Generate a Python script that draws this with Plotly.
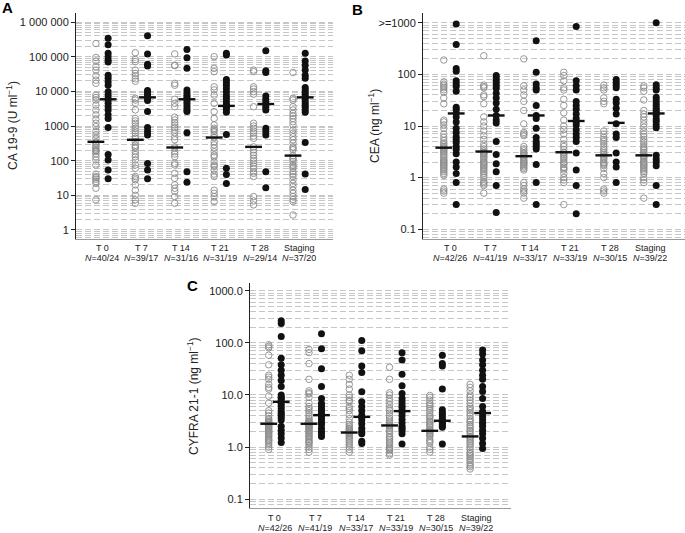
import plotly.graph_objects as go

CATS = ["T 0", "T 7", "T 14", "T 21", "T 28", "Staging"]
N_A = ["40/24", "39/17", "31/16", "31/19", "29/14", "37/20"]
N_B = ["42/26", "41/19", "33/17", "33/19", "30/15", "39/22"]
N_C = ["42/26", "41/19", "33/17", "33/19", "30/15", "39/22"]

# ---- Panel A: CA 19-9 (U/ml) ----
CA_OPEN = [
    [240000, 95000, 75000, 51000, 41000, 28000, 21000, 17000, 7800, 6600, 5600, 4000, 2900, 2100,
     1550, 1200, 960, 690, 550, 440, 350, 320, 280, 250, 215, 200, 183, 156, 130, 105, 75, 41, 35,
     32, 29, 25, 22, 16, 7.4, 190],
    [130000, 83000, 72000, 41000, 33000, 28000, 23000, 19500, 6300, 5600, 4500, 2900, 1650, 1400,
     1200, 1000, 850, 720, 620, 510, 440, 350, 280, 230, 180, 150, 130, 105, 75, 60, 35, 31, 28,
     20, 14, 10, 7.4, 5.9, 250],
    [120000, 57000, 55000, 17000, 15000, 5900, 4500, 3600, 1800, 1500, 1250, 1070, 900, 760, 640,
     490, 400, 250, 230, 180, 155, 130, 84, 75, 43, 31, 20, 16, 13, 9.2, 5.9],
    [100000, 46000, 37000, 13500, 11000, 7800, 4500, 2600, 1650, 1070, 860, 770, 690, 550, 460,
     350, 285, 230, 180, 145, 130, 94, 75, 68, 54, 41, 35, 14, 11.4, 9.2, 6.6],
    [41000, 37000, 13500, 11700, 9800, 8300, 3600, 1200, 1000, 860, 720, 620, 510, 440, 250, 205,
     170, 142, 117, 100, 84, 70, 59, 48, 43, 35, 9.2, 6.9, 5.3],
    [35000, 6300, 5600, 3600, 2900, 2300, 1950, 1650, 1330, 1070, 770, 620, 490, 400, 320, 250,
     230, 205, 138, 117, 110, 94, 75, 68, 60, 48, 41, 35, 28, 22, 18, 14, 11.4, 9.2, 7.6, 6.6, 2.7],
]
CA_FILLED = [
    [340000, 220000, 125000, 100000, 80000, 70000, 29000, 24000, 19000, 15000, 9700, 7800, 6300,
     5600, 4500, 3600, 2900, 2100, 1650, 900, 150, 105, 54, 30],
    [400000, 120000, 60000, 54000, 10500, 9100, 8000, 7000, 6100, 5400, 2600, 900, 690, 550, 83,
     54, 30],
    [160000, 93000, 46000, 11000, 9100, 7700, 6700, 5900, 5000, 4300, 3600, 3000, 2600, 640, 48, 24],
    [125000, 112000, 22000, 18000, 15000, 12000, 9500, 7500, 6300, 5000, 4200, 3800, 3500, 3000,
     2500, 570, 60, 40, 22],
    [148000, 39000, 35000, 7300, 5900, 4900, 4100, 3500, 2900, 860, 690, 550, 48, 16.6],
    [125000, 75000, 57000, 41000, 29000, 24000, 13000, 11000, 9200, 7800, 6700, 5600, 4700, 4000,
     3500, 2900, 2500, 335, 41, 14.8],
]
CA_MED_OPEN = [350, 400, 240, 465, 250, 140]
CA_MED_FILLED = [5900, 6700, 5900, 3800, 4300, 6700]

# ---- Panel B: CEA (ng/ml) ----
CEA_OPEN = [
    [190, 72, 65, 60, 55, 50, 45, 35, 27, 13, 12, 10.5, 9, 7, 6, 5.2, 4.7, 4.3, 4.0, 3.8, 3.6, 3.4,
     3.2, 3.0, 2.8, 2.6, 2.4, 2.2, 2.1, 2.0, 1.9, 1.8, 1.7, 1.6, 1.5, 1.4, 1.3, 1.2, 1.1, 0.6, 0.55, 0.5],
    [230, 62, 58, 55, 40, 37, 27, 15, 12, 10, 8, 6.5, 5.5, 4.5, 4.0, 3.6, 3.3, 3.1, 3.0, 2.9, 2.8,
     2.6, 2.5, 2.3, 2.1, 2.0, 1.9, 1.8, 1.7, 1.6, 1.5, 1.4, 1.3, 1.2, 1.1, 1.0, 0.85, 0.8, 0.75, 0.7, 0.5],
    [200, 60, 50, 40, 30, 20, 11, 7.5, 7, 6.5, 4, 3.6, 3.3, 3.0, 2.9, 2.7, 2.5, 2.4, 2.2, 2.1, 2.0,
     1.9, 1.8, 1.7, 1.6, 1.5, 1.4, 0.8, 0.7, 0.6, 0.55, 0.5, 0.4],
    [110, 95, 75, 55, 50, 33, 25, 18, 13, 10, 8.5, 7, 5.5, 4.5, 4.0, 3.5, 3.1, 3.0, 2.8, 2.6, 2.4,
     2.2, 2.0, 1.9, 1.8, 1.6, 1.5, 1.4, 1.2, 1.0, 0.9, 0.8, 0.3],
    [62, 55, 50, 35, 30, 27, 8, 7, 6, 5.5, 5, 4.5, 4, 3.6, 3.3, 3.0, 2.8, 2.6, 2.4, 2.2, 2.0, 1.9,
     1.8, 1.7, 1.5, 1.2, 1.0, 0.6, 0.55, 0.5],
    [60, 55, 47, 32, 20, 17, 15, 13, 11, 9.5, 8, 7, 6.2, 5.5, 5, 4.5, 4, 3.7, 3.4, 3.1, 2.9, 2.7,
     2.6, 2.5, 2.3, 2.1, 2.0, 1.9, 1.8, 1.7, 1.6, 1.5, 1.4, 1.3, 1.2, 1.0, 0.9, 0.8, 0.4],
]
CEA_FILLED = [
    [950, 380, 130, 115, 75, 65, 58, 47, 23, 21, 18, 15, 12, 9, 7.5, 6.2, 5.5, 4.8, 4.0, 3.5, 2.9,
     2.0, 1.6, 1.2, 0.8, 0.3],
    [95, 85, 76, 68, 60, 54, 43, 35, 28, 21, 16, 13, 11.4, 5.0, 2.8, 1.86, 1.3, 0.7, 0.21],
    [450, 110, 65, 55, 50, 25, 16, 14, 9, 6, 5, 4.5, 4, 3.6, 1.8, 0.8, 0.3],
    [850, 75, 60, 50, 30, 25, 21, 17, 14, 12, 10.5, 8.5, 7, 6, 5, 3, 1.4, 0.7, 0.2],
    [80, 70, 62, 55, 33, 28, 22, 17, 11, 7, 6, 3, 2, 1.6, 0.8],
    [1000, 63, 55, 50, 36, 32, 28, 25, 22, 20, 18, 16, 13.7, 12.3, 10.6, 9.2, 2.7, 2.3, 2.0, 1.7,
     0.7, 0.3],
]
CEA_MED_OPEN = [3.8, 3.2, 2.6, 3.1, 2.7, 2.7]
CEA_MED_FILLED = [17.5, 16, 16, 12.5, 11.5, 17.5]

# ---- Panel C: CYFRA 21-1 (ng/ml) ----
CYF_OPEN = [
    [92, 85, 80, 58, 38, 24, 22, 20, 16, 14, 13, 9.5, 7, 5, 4.5, 4, 3.5, 3.3, 3.1, 3.0, 2.9, 2.8,
     2.7, 2.6, 2.5, 2.4, 2.3, 2.2, 2.1, 2.0, 1.9, 1.8, 1.7, 1.6, 1.5, 1.4, 1.35, 1.3, 1.2, 1.1, 1.0, 0.9],
    [75, 65, 40, 20, 12, 11, 10.5, 9, 7, 6, 5.5, 5, 4.5, 4, 3.6, 3.3, 3.1, 3.0, 2.9, 2.8, 2.7, 2.6,
     2.5, 2.4, 2.3, 2.2, 2.1, 2.0, 1.9, 1.8, 1.7, 1.6, 1.5, 1.4, 1.3, 1.25, 1.2, 1.1, 1.0, 0.9, 0.8],
    [24, 20, 16, 13, 10, 9, 8, 7.5, 6, 5.5, 5, 4.2, 3.5, 3.0, 2.7, 2.5, 2.3, 2.2, 2.1, 2.0, 1.9,
     1.85, 1.8, 1.7, 1.6, 1.5, 1.4, 1.3, 1.2, 1.1, 1.0, 0.9, 0.8],
    [34, 20, 11, 10, 8.5, 7.5, 6.5, 5.5, 5, 4.5, 4, 3.6, 3.3, 3.0, 2.8, 2.6, 2.5, 2.3, 2.1, 2.0, 1.8,
     1.6, 1.5, 1.4, 1.3, 1.2, 1.1, 1.0, 0.95, 0.9, 0.85, 0.75, 0.7],
    [9.8, 9, 8, 7, 6.5, 6, 5.5, 5, 4.5, 4, 3.8, 3.5, 3.2, 3.0, 2.8, 2.6, 2.4, 2.2, 2.1, 2.0, 1.9,
     1.8, 1.7, 1.6, 1.4, 1.3, 1.2, 1.0, 0.9, 0.8],
    [16, 14, 12, 10, 9, 8, 7, 6, 5.5, 5, 4.5, 4, 3.5, 3.2, 3.0, 2.7, 2.5, 2.3, 2.1, 2.0, 1.8, 1.6,
     1.5, 1.4, 1.3, 1.2, 1.1, 1.0, 0.9, 0.8, 0.75, 0.7, 0.65, 0.6, 0.55, 0.5, 0.45, 0.42, 0.38],
]
CYF_FILLED = [
    [265, 235, 132, 51, 38, 30, 24, 19, 14.5, 10, 9, 8.6, 7.8, 6.9, 6.2, 5.5, 4.8, 4.4, 4.1, 3.7,
     3.3, 2.5, 2.1, 1.8, 1.5, 1.23],
    [150, 77, 32, 14.5, 8.6, 6.9, 6.2, 5.5, 5.0, 4.45, 4.1, 3.7, 3.3, 2.95, 2.7, 2.3, 2.0, 1.8, 1.6],
    [111, 71, 36, 27, 11.5, 7.4, 6.0, 5.0, 4.1, 3.7, 3.3, 2.8, 2.3, 2.0, 1.8, 1.3, 1.17],
    [65, 47, 25, 15, 10.7, 8.6, 7.4, 6.4, 5.8, 5.1, 4.6, 4.0, 3.4, 2.9, 2.5, 2.3, 2.1, 1.8, 1.15],
    [58, 40, 36, 13, 5.2, 4.6, 4.2, 3.8, 3.5, 3.2, 3.0, 2.8, 2.6, 2.4, 1.15],
    [73, 61, 47, 38, 30, 24, 20, 14.5, 11.6, 8.6, 6.0, 4.8, 4.4, 3.8, 3.3, 2.85, 2.5, 2.1, 1.8,
     1.47, 1.17, 0.94],
]
CYF_MED_OPEN = [2.8, 2.8, 1.9, 2.6, 2.05, 1.6]
CYF_MED_FILLED = [7.4, 4.1, 3.8, 4.9, 3.2, 4.5]

FONT = "Liberation Sans, Arial, sans-serif"
OFF = 0.155
W, H = 685, 533

fig = go.Figure()


def add_panel(suffix, opens, filleds, med_o, med_f):
    xa, ya = "x" + suffix, "y" + suffix
    xo, yo, xf, yf = [], [], [], []
    for i, vals in enumerate(opens):
        xo += [i - OFF] * len(vals)
        yo += vals
    for i, vals in enumerate(filleds):
        xf += [i + OFF] * len(vals)
        yf += vals
    fig.add_trace(go.Scatter(x=xo, y=yo, mode="markers", xaxis=xa, yaxis=ya,
                             marker=dict(symbol="circle-open", size=6.5, color="#8c8c8c",
                                         line=dict(width=0.9, color="#8c8c8c")),
                             showlegend=False, hoverinfo="skip"))
    fig.add_trace(go.Scatter(x=xf, y=yf, mode="markers", xaxis=xa, yaxis=ya,
                             marker=dict(symbol="circle", size=7, color="#111111"),
                             showlegend=False, hoverinfo="skip"))
    mx = [i - OFF for i in range(len(med_o))] + [i + OFF for i in range(len(med_f))]
    fig.add_trace(go.Scatter(x=mx, y=list(med_o) + list(med_f), mode="markers",
                             xaxis=xa, yaxis=ya,
                             marker=dict(symbol="line-ew-open", size=12, color="#111111",
                                         line=dict(width=2.4, color="#111111")),
                             showlegend=False, hoverinfo="skip"))


add_panel("", CA_OPEN, CA_FILLED, CA_MED_OPEN, CA_MED_FILLED)
add_panel("2", CEA_OPEN, CEA_FILLED, CEA_MED_OPEN, CEA_MED_FILLED)
add_panel("3", CYF_OPEN, CYF_FILLED, CYF_MED_OPEN, CYF_MED_FILLED)

GRID = "#c6c6c6"
DASH = "6px,3px"


def xax(domain, rng, anchor):
    return dict(domain=domain, range=rng, anchor=anchor, automargin=False,
                showticklabels=False, showline=True, linecolor="#999999", linewidth=1,
                ticks="", showgrid=False, zeroline=False)


def yax(domain, rng, anchor, tv, tt):
    return dict(domain=domain, range=rng, anchor=anchor, type="log", automargin=False,
                tickmode="array", tickvals=tv, ticktext=tt,
                tickfont=dict(family=FONT, size=11, color="#222"),
                showline=True, linecolor="#222222", linewidth=1,
                ticks="outside", ticklen=4, tickcolor="#222222",
                showgrid=True, gridcolor=GRID, gridwidth=1, griddash=DASH,
                minor=dict(dtick="D1", showgrid=True, gridcolor=GRID, gridwidth=1,
                           griddash=DASH, ticks=""),
                zeroline=False)


ydA = [1 - 239 / H, 1 - 13 / H]
ydC = [1 - 508 / H, 1 - 283 / H]

fig.update_layout(
    width=W, height=H,
    template="none",
    margin=dict(l=0, r=0, t=0, b=0, autoexpand=False),
    paper_bgcolor="white", plot_bgcolor="white",
    font=dict(family=FONT, color="#222"),
    xaxis=xax([76 / W, 333 / W], [-0.66, 5.86], "y"),
    yaxis=yax(ydA, [-0.26, 6.26], "x",
              [1, 10, 100, 1000, 10000, 100000, 1000000],
              ["1", "10", "100", "1000", "10 000", "100 000", "1 000 000"]),
    xaxis2=xax([423 / W, 1.0], [-0.675, 5.875], "y2"),
    yaxis2=yax(ydA, [-1.19, 3.19], "x2",
               [0.1, 1, 10, 100, 1000], ["0.1", "1", "10", "100", ">=1000"]),
    xaxis3=xax([250 / W, 511 / W], [-0.62, 5.86], "y3"),
    yaxis3=yax(ydC, [-1.17, 3.15], "x3",
               [0.1, 1, 10, 100, 1000], ["0.1", "1.0", "10.0", "100.0", "1000.0"]),
)

ann = []
# category labels (two lines) under each panel
for xref, nlist, y1 in [("x", N_A, 248), ("x2", N_B, 248), ("x3", N_C, 518)]:
    for i, (c, n) in enumerate(zip(CATS, nlist)):
        ann.append(dict(text=c, x=i, xref=xref, y=1 - y1 / H, yref="paper",
                        showarrow=False, font=dict(family=FONT, size=9, color="#222"),
                        xanchor="center", yanchor="middle"))
        ann.append(dict(text=f"<i>N</i>={n}", x=i, xref=xref, y=1 - (y1 + 9.5) / H,
                        yref="paper", showarrow=False,
                        font=dict(family=FONT, size=9, color="#222"),
                        xanchor="center", yanchor="middle"))
for txt, x, y in [("A", 7, 8), ("B", 357, 9), ("C", 192, 285)]:
    ann.append(dict(text=f"<b>{txt}</b>", x=x / W, y=1 - y / H, xref="paper", yref="paper",
                    showarrow=False, font=dict(family=FONT, size=15, color="#000"),
                    xanchor="center", yanchor="middle"))
for txt, x, y in [("CA 19-9 (U ml<sup>−1</sup>)", 12, 126),
                  ("CEA (ng ml<sup>−1</sup>)", 374, 126),
                  ("CYFRA 21-1 (ng ml<sup>−1</sup>)", 193, 396)]:
    ann.append(dict(text=txt, x=x / W, y=1 - y / H, xref="paper", yref="paper",
                    showarrow=False, textangle=-90, font=dict(family=FONT, size=12, color="#222"),
                    xanchor="center", yanchor="middle"))
fig.update_layout(annotations=ann)

fig.write_html("out.html", config={"displayModeBar": False},
               post_script="document.body.style.margin='0px';")
